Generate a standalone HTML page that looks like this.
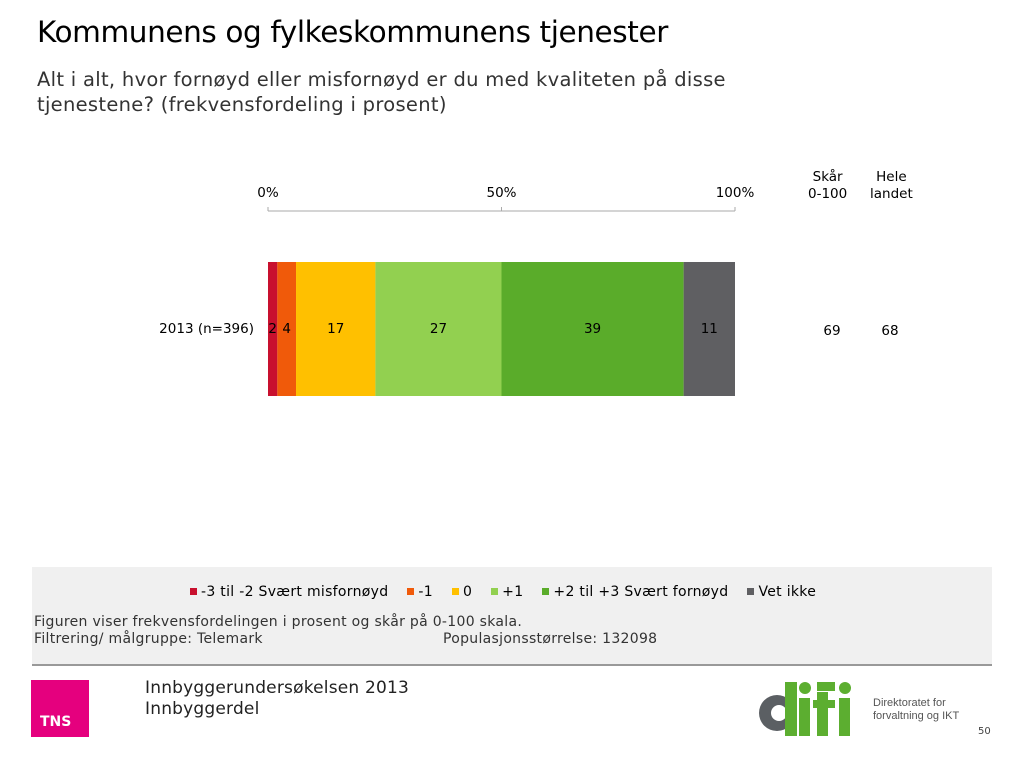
<!DOCTYPE html>
<html><head><meta charset="utf-8"><style>
body{margin:0;width:1024px;height:768px;background:#fff;position:relative;overflow:hidden;font-family:"DejaVu Sans","Liberation Sans",sans-serif;color:#000}
.a{position:absolute;white-space:nowrap}
</style></head><body>
<div class="a" style="left:37px;top:15px;font-size:29.5px;font-family:'DejaVu Sans',sans-serif;letter-spacing:-0.4px">Kommunens og fylkeskommunens tjenester</div>
<div class="a" style="left:37px;top:67px;font-size:19.5px;color:#333;line-height:25px;letter-spacing:0.3px">Alt i alt, hvor fornøyd eller misfornøyd er du med kvaliteten på disse<br>tjenestene? (frekvensfordeling i prosent)</div>
<div class="a" style="left:808px;top:169px;font-size:13.5px;text-align:center;line-height:17px">Skår<br>0-100</div>
<div class="a" style="left:870px;top:169px;font-size:13.5px;text-align:center;line-height:17px">Hele<br>landet</div>
<svg class="a" style="left:0;top:0" width="1024" height="560">
<g id="axis"></g><g id="bars"></g>
</svg>
<div class="a" style="left:32px;top:567px;width:960px;height:97px;background:#f0f0f0;border-bottom:2px solid #999"></div>
<div class="a" style="left:190px;top:584px;font-size:14px;display:flex;gap:19px;letter-spacing:0.3px" id="legend"></div>
<div class="a" style="left:34px;top:614px;font-size:14px;color:#333;line-height:17px;letter-spacing:0.3px">Figuren viser frekvensfordelingen i prosent og skår på 0-100 skala.<br>Filtrering/ målgruppe: Telemark</div>
<div class="a" style="left:443px;top:631px;font-size:14px;color:#333;letter-spacing:0.3px">Populasjonsstørrelse: 132098</div>
<div class="a" style="left:31px;top:680px;width:58px;height:57px;background:#e5007e;color:#fff;font-weight:bold;font-size:14px"><span style="position:absolute;left:9px;top:34px">TNS</span></div>
<div class="a" style="left:145px;top:678px;font-size:17px;line-height:21px;color:#222;letter-spacing:0.2px">Innbyggerundersøkelsen 2013<br>Innbyggerdel</div>
<svg class="a" style="left:755px;top:678px" width="120" height="60">
<circle cx="22" cy="35" r="18" fill="#5b5f63"/><circle cx="24" cy="35" r="8" fill="#fff"/>
<rect x="30" y="4" width="12" height="54" fill="#5cae30"/><rect x="44" y="20" width="11" height="38" fill="#5cae30"/><circle cx="50" cy="10" r="6" fill="#5cae30"/>
<rect x="62" y="14" width="11" height="44" fill="#5cae30"/><rect x="58" y="22" width="22" height="8" fill="#5cae30"/><rect x="62" y="4" width="18" height="9" fill="#5cae30"/>
<rect x="84" y="20" width="11" height="38" fill="#5cae30"/><circle cx="90" cy="10" r="6" fill="#5cae30"/>
</svg>
<div class="a" style="left:873px;top:697px;font-family:'Liberation Sans',sans-serif;font-size:11px;line-height:13px;color:#555">Direktoratet for<br>forvaltning og IKT</div>
<div class="a" style="left:978px;top:726px;font-size:10px;color:#444">50</div>
<script>
const categories=["2013 (n=396)"];
const seriesNames=["-3 til -2 Svært misfornøyd","-1","0","+1","+2 til +3 Svært fornøyd","Vet ikke"];
const seriesColors=["#c8102e","#f05a0a","#ffc000","#92d050","#5aac2a","#5f5f62"];
const seriesValues=[[2],[4],[17],[27],[39],[11]];
const scores=[69];
const national=[68];
const ticks=[0,50,100];
const NS="http://www.w3.org/2000/svg";
const x0=268,x1=735;
const xs=v=>x0+(x1-x0)*v/100;
function mk(t,a,p){const e=document.createElementNS(NS,t);for(const k in a)e.setAttribute(k,a[k]);p.appendChild(e);return e;}
const ax=document.getElementById('axis'),bars=document.getElementById('bars');
const al=mk('line',{x1:xs(0),x2:xs(100),y1:211,y2:211,stroke:'#aaa'},ax);


ticks.forEach(t=>{
 const l=mk('line',{x1:xs(t),x2:xs(t),y1:207,y2:211,stroke:'#aaa'},ax);
 
 
 const tx=mk('text',{x:xs(t),y:197,'text-anchor':'middle','font-size':13.5,'font-family':'DejaVu Sans,sans-serif'},ax);
 tx.textContent=t+'%';
 
 
});
categories.forEach((c,i)=>{
 const y=262,h=134,cy=y+h/2+5;
 const lab=mk('text',{x:254,y:cy-1,'text-anchor':'end','font-size':13.5,'font-family':'DejaVu Sans,sans-serif'},bars);
 lab.textContent=c;
 
 
 let acc=0;
 seriesValues.forEach((s,j)=>{
  const v=s[i];
  const r=mk('rect',{x:xs(acc),y:y,width:xs(acc+v)-xs(acc),height:h,fill:seriesColors[j]},bars);
  
  
  const t=mk('text',{x:(xs(acc)+xs(acc+v))/2,y:cy-1,'text-anchor':'middle','font-size':13.5,'font-family':'DejaVu Sans,sans-serif'},bars);
  t.textContent=v;
  
  
  acc+=v;
 });
 const s1=mk('text',{x:832,y:cy+1,'text-anchor':'middle','font-size':13.5,'font-family':'DejaVu Sans,sans-serif'},bars);
 s1.textContent=scores[i];
 
 
 const s2=mk('text',{x:890,y:cy+1,'text-anchor':'middle','font-size':13.5,'font-family':'DejaVu Sans,sans-serif'},bars);
 s2.textContent=national[i];
 
 
});
const lg=document.getElementById('legend');
seriesNames.forEach((n,j)=>{
 const d=document.createElement('span');
 
 
 d.innerHTML='<span style="display:inline-block;width:7px;height:7px;background:'+seriesColors[j]+';margin-right:4px;vertical-align:1px"></span>'+n;
 lg.appendChild(d);
});
</script>
</body></html>
